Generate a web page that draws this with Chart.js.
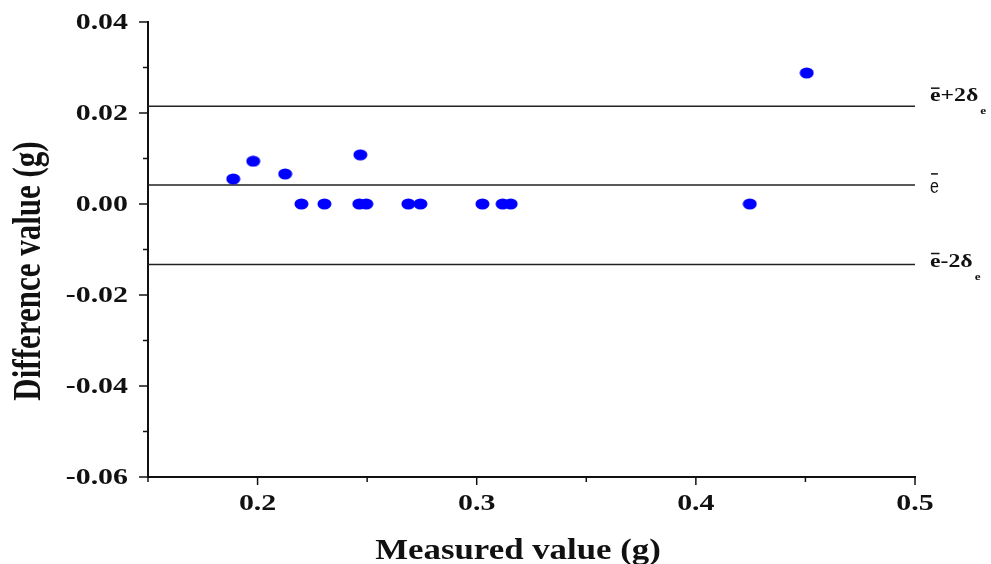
<!DOCTYPE html>
<html>
<head>
<meta charset="utf-8">
<title>Difference vs measured value</title>
<style>
  html, body { margin: 0; padding: 0; background: #fff; }
</style>
<script src="https://cdn.jsdelivr.net/npm/chart.js@4.4.1/dist/chart.umd.min.js"></script>
</head>
<body>
<canvas id="baChart" width="991" height="564"></canvas>
<script>
const measured   = [0.1889, 0.1980, 0.2126, 0.2200, 0.2305, 0.2469, 0.2464, 0.2496,
                    0.2688, 0.2743, 0.3026, 0.3118, 0.3155, 0.4246, 0.4506];
const difference = [0.0055, 0.0094, 0.0066, 0.0000, 0.0000, 0.0108, 0.0000, 0.0000,
                    0.0000, 0.0000, 0.0000, 0.0000, 0.0000, 0.0000, 0.0288];

// mean difference and limits of agreement
const meanDiff   = 0.0042;
const upperLimit = 0.0215;
const lowerLimit = -0.0133;

const xMajorTicks = [0.2, 0.3, 0.4, 0.5];
const xMinorTicks = [0.15, 0.25, 0.35, 0.45];
const yMajorTicks = [-0.06, -0.04, -0.02, 0.00, 0.02, 0.04];
const yMinorTicks = [-0.05, -0.03, -0.01, 0.01, 0.03];

const SERIF = "'Liberation Serif', 'Times New Roman', serif";
const INK = '#111';

// slightly flattened blue dot, like the original
function ellipseDot() {
    const c = document.createElement('canvas');
    c.width = 15; c.height = 12;
    const g = c.getContext('2d');
    g.fillStyle = '#0000ff';
    g.beginPath();
    g.ellipse(7.5, 6, 7, 5.5, 0, 0, Math.PI * 2);
    g.fill();
    return c;
}

function hLine(y) {
    return [{ x: 0.15, y: y }, { x: 0.5, y: y }];
}

// draw text squeezed/stretched horizontally
function stretchText(ctx, text, x, y, sx, sy) {
    ctx.save();
    ctx.translate(x, y);
    ctx.scale(sx, sy || 1);
    ctx.fillText(text, 0, 0);
    ctx.restore();
}

const axisDecor = {
    id: 'axisDecor',
    afterDraw(chart) {
        const { ctx, chartArea: area, scales: { x, y } } = chart;
        ctx.save();
        ctx.strokeStyle = INK;
        ctx.fillStyle = INK;
        ctx.lineWidth = 1.5;

        // tick marks, outward
        const tick = (px, py, dx, dy) => {
            ctx.beginPath(); ctx.moveTo(px, py); ctx.lineTo(px + dx, py + dy); ctx.stroke();
        };
        xMajorTicks.forEach(v => tick(x.getPixelForValue(v), area.bottom, 0, 8));
        xMinorTicks.forEach(v => tick(x.getPixelForValue(v), area.bottom, 0, 5));
        yMajorTicks.forEach(v => tick(area.left, y.getPixelForValue(v), -9, 0));
        yMinorTicks.forEach(v => tick(area.left, y.getPixelForValue(v), -5, 0));

        // tick labels
        ctx.font = 'bold 23px ' + SERIF;
        ctx.textBaseline = 'middle';
        ctx.textAlign = 'center';
        xMajorTicks.forEach(v => stretchText(ctx, v.toFixed(1), x.getPixelForValue(v), area.bottom + 27, 1.3));
        ctx.textAlign = 'right';
        yMajorTicks.forEach(v => stretchText(ctx, v.toFixed(2), area.left - 20, y.getPixelForValue(v) + 1, 1.3));

        // axis titles
        ctx.textBaseline = 'alphabetic';
        ctx.textAlign = 'center';
        ctx.font = 'bold 29px ' + SERIF;
        stretchText(ctx, 'Measured value (g)', 518, 559, 1.2);

        ctx.save();
        ctx.translate(40, 271);
        ctx.rotate(-Math.PI / 2);
        ctx.font = 'bold 31px ' + SERIF;
        stretchText(ctx, 'Difference value (g)', 0, 0, 1, 1.3);
        ctx.restore();

        // line labels on the right
        const lx = area.right + 15;
        const limitLabel = (base, sign) => {
            ctx.textAlign = 'left';
            ctx.font = 'bold 19px ' + SERIF;
            const sx = 1.25;
            const eW = ctx.measureText('e').width * sx;
            stretchText(ctx, 'e', lx, base, sx);
            ctx.beginPath(); ctx.moveTo(lx + 1, base - 13); ctx.lineTo(lx + eW - 1, base - 13); ctx.stroke();
            const rest = sign + '2\u03b4';
            stretchText(ctx, rest, lx + eW, base, sx);
            const rW = ctx.measureText(rest).width * sx;
            ctx.font = 'bold 11px ' + SERIF;
            stretchText(ctx, 'e', lx + eW + rW + 2, base + 13, 1.2);
        };
        limitLabel(y.getPixelForValue(upperLimit) - 5, '+');
        limitLabel(y.getPixelForValue(lowerLimit) + 2, '-');

        const mBase = y.getPixelForValue(meanDiff) + 8;
        ctx.font = '20px ' + "'Liberation Sans', Arial, sans-serif";
        ctx.textAlign = 'left';
        stretchText(ctx, 'e', lx, mBase, 0.8);
        const mW = ctx.measureText('e').width * 0.8;
        ctx.beginPath(); ctx.moveTo(lx + 1, mBase - 19); ctx.lineTo(lx + mW - 1, mBase - 19); ctx.stroke();

        ctx.restore();
    }
};

const limitStyle = {
    type: 'line',
    borderColor: '#222',
    borderWidth: 1.5,
    pointRadius: 0,
    fill: false,
    order: 2
};

new Chart(document.getElementById('baChart'), {
    type: 'scatter',
    data: {
        datasets: [
            {
                label: 'Difference',
                data: measured.map((m, i) => ({ x: m, y: difference[i] })),
                pointStyle: ellipseDot(),
                order: 0
            },
            Object.assign({ label: 'mean + 2sd', data: hLine(upperLimit) }, limitStyle),
            Object.assign({ label: 'mean', data: hLine(meanDiff) }, limitStyle),
            Object.assign({ label: 'mean - 2sd', data: hLine(lowerLimit) }, limitStyle)
        ]
    },
    options: {
        responsive: false,
        animation: false,
        layout: { padding: { left: 0, right: 76, top: 22, bottom: 0 } },
        plugins: { legend: { display: false }, tooltip: { enabled: false } },
        scales: {
            x: {
                type: 'linear',
                min: 0.15, max: 0.5,
                grid: { display: false },
                border: { display: true, color: INK, width: 2 },
                ticks: { display: false },
                afterFit: s => { s.height = 87; }
            },
            y: {
                type: 'linear',
                min: -0.06, max: 0.04,
                grid: { display: false },
                border: { display: true, color: INK, width: 2 },
                ticks: { display: false },
                afterFit: s => { s.width = 148; }
            }
        }
    },
    plugins: [axisDecor]
});
</script>
</body>
</html>
